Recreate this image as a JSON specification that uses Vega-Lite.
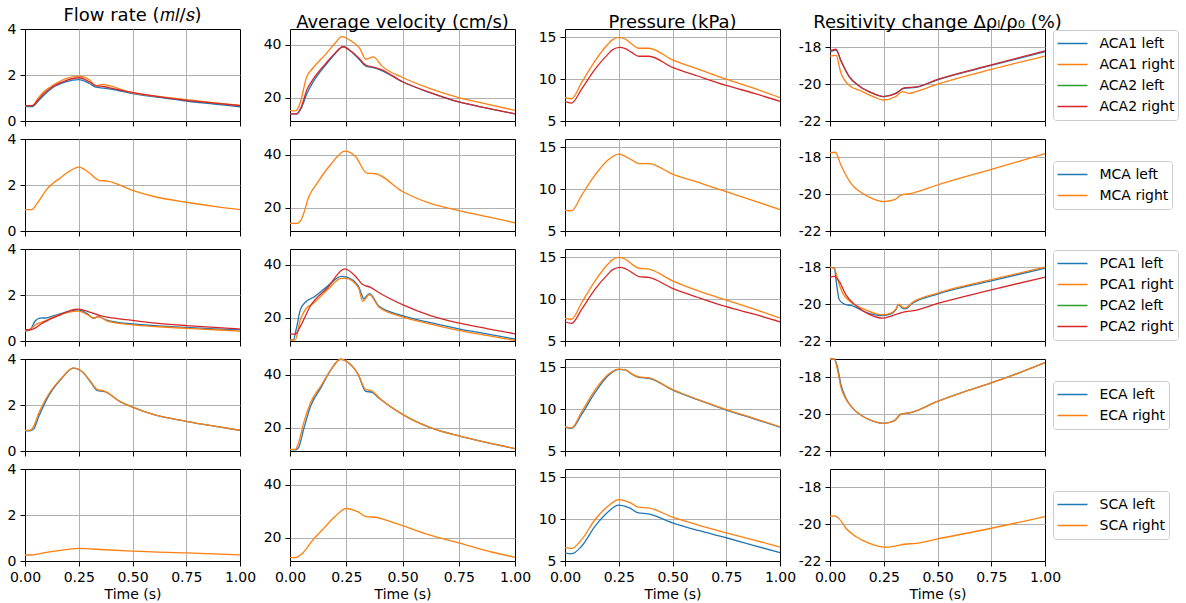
{
"$schema": "https://vega.github.io/schema/vega-lite/v6.json",
"padding": {"left": 6, "top": 6, "right": 0, "bottom": 0},
"datasets": {
"ACA_Q": [
{"s":"ACA1 left","t":0,"v":0.63},{"s":"ACA1 left","t":0.035,"v":0.63},{"s":"ACA1 left","t":0.06,"v":0.85},{"s":"ACA1 left","t":0.085,"v":1.1},{"s":"ACA1 left","t":0.13,"v":1.46},{"s":"ACA1 left","t":0.19,"v":1.7},{"s":"ACA1 left","t":0.25,"v":1.8},{"s":"ACA1 left","t":0.3,"v":1.63},{"s":"ACA1 left","t":0.33,"v":1.47},{"s":"ACA1 left","t":0.365,"v":1.43},{"s":"ACA1 left","t":0.41,"v":1.37},{"s":"ACA1 left","t":0.5,"v":1.19},{"s":"ACA1 left","t":0.62,"v":1.03},{"s":"ACA1 left","t":0.75,"v":0.87},{"s":"ACA1 left","t":0.88,"v":0.74},{"s":"ACA1 left","t":1,"v":0.62},
{"s":"ACA1 right","t":0,"v":0.67},{"s":"ACA1 right","t":0.035,"v":0.68},{"s":"ACA1 right","t":0.06,"v":0.98},{"s":"ACA1 right","t":0.085,"v":1.25},{"s":"ACA1 right","t":0.13,"v":1.55},{"s":"ACA1 right","t":0.19,"v":1.84},{"s":"ACA1 right","t":0.25,"v":1.95},{"s":"ACA1 right","t":0.3,"v":1.79},{"s":"ACA1 right","t":0.33,"v":1.53},{"s":"ACA1 right","t":0.36,"v":1.59},{"s":"ACA1 right","t":0.39,"v":1.54},{"s":"ACA1 right","t":0.5,"v":1.22},{"s":"ACA1 right","t":0.62,"v":1.07},{"s":"ACA1 right","t":0.75,"v":0.93},{"s":"ACA1 right","t":0.88,"v":0.79},{"s":"ACA1 right","t":1,"v":0.68},
{"s":"ACA2 right","t":0,"v":0.67},{"s":"ACA2 right","t":0.035,"v":0.67},{"s":"ACA2 right","t":0.06,"v":0.9},{"s":"ACA2 right","t":0.085,"v":1.17},{"s":"ACA2 right","t":0.13,"v":1.5},{"s":"ACA2 right","t":0.19,"v":1.76},{"s":"ACA2 right","t":0.25,"v":1.88},{"s":"ACA2 right","t":0.3,"v":1.7},{"s":"ACA2 right","t":0.33,"v":1.53},{"s":"ACA2 right","t":0.365,"v":1.5},{"s":"ACA2 right","t":0.41,"v":1.41},{"s":"ACA2 right","t":0.5,"v":1.24},{"s":"ACA2 right","t":0.62,"v":1.06},{"s":"ACA2 right","t":0.75,"v":0.9},{"s":"ACA2 right","t":0.88,"v":0.78},{"s":"ACA2 right","t":1,"v":0.67}
],
"ACA_U": [
{"s":"ACA1 left","t":0,"v":13.9},{"s":"ACA1 left","t":0.03,"v":13.9},{"s":"ACA1 left","t":0.05,"v":16},{"s":"ACA1 left","t":0.075,"v":21.5},{"s":"ACA1 left","t":0.1,"v":25.5},{"s":"ACA1 left","t":0.16,"v":32.5},{"s":"ACA1 left","t":0.2,"v":36.5},{"s":"ACA1 left","t":0.236,"v":39.2},{"s":"ACA1 left","t":0.27,"v":37.5},{"s":"ACA1 left","t":0.31,"v":34.2},{"s":"ACA1 left","t":0.335,"v":32},{"s":"ACA1 left","t":0.37,"v":31.3},{"s":"ACA1 left","t":0.4,"v":30.5},{"s":"ACA1 left","t":0.5,"v":26},{"s":"ACA1 left","t":0.62,"v":22},{"s":"ACA1 left","t":0.75,"v":18.4},{"s":"ACA1 left","t":0.88,"v":16},{"s":"ACA1 left","t":1,"v":13.9},
{"s":"ACA1 right","t":0,"v":15.2},{"s":"ACA1 right","t":0.025,"v":15},{"s":"ACA1 right","t":0.045,"v":18},{"s":"ACA1 right","t":0.074,"v":27.8},{"s":"ACA1 right","t":0.1,"v":31},{"s":"ACA1 right","t":0.16,"v":36.5},{"s":"ACA1 right","t":0.2,"v":40.5},{"s":"ACA1 right","t":0.23,"v":43},{"s":"ACA1 right","t":0.27,"v":41.5},{"s":"ACA1 right","t":0.31,"v":38.6},{"s":"ACA1 right","t":0.337,"v":34.5},{"s":"ACA1 right","t":0.37,"v":35.4},{"s":"ACA1 right","t":0.41,"v":31.8},{"s":"ACA1 right","t":0.5,"v":27.6},{"s":"ACA1 right","t":0.62,"v":23.5},{"s":"ACA1 right","t":0.75,"v":20},{"s":"ACA1 right","t":0.88,"v":17.5},{"s":"ACA1 right","t":1,"v":15.2},
{"s":"ACA2 right","t":0,"v":13.9},{"s":"ACA2 right","t":0.03,"v":13.9},{"s":"ACA2 right","t":0.05,"v":16.5},{"s":"ACA2 right","t":0.075,"v":23},{"s":"ACA2 right","t":0.1,"v":26.6},{"s":"ACA2 right","t":0.16,"v":33},{"s":"ACA2 right","t":0.2,"v":36.8},{"s":"ACA2 right","t":0.236,"v":39.2},{"s":"ACA2 right","t":0.27,"v":37.6},{"s":"ACA2 right","t":0.31,"v":34.6},{"s":"ACA2 right","t":0.335,"v":32.4},{"s":"ACA2 right","t":0.37,"v":31.5},{"s":"ACA2 right","t":0.4,"v":30.8},{"s":"ACA2 right","t":0.5,"v":26},{"s":"ACA2 right","t":0.62,"v":22},{"s":"ACA2 right","t":0.75,"v":18.4},{"s":"ACA2 right","t":0.88,"v":16},{"s":"ACA2 right","t":1,"v":13.9}
],
"ACA_P": [
{"s":"ACA1 right","t":0,"v":7.78},{"s":"ACA1 right","t":0.03,"v":7.66},{"s":"ACA1 right","t":0.078,"v":9.64},{"s":"ACA1 right","t":0.14,"v":12.2},{"s":"ACA1 right","t":0.2,"v":14.2},{"s":"ACA1 right","t":0.22,"v":14.7},{"s":"ACA1 right","t":0.25,"v":15.0},{"s":"ACA1 right","t":0.28,"v":14.8},{"s":"ACA1 right","t":0.31,"v":14.2},{"s":"ACA1 right","t":0.344,"v":13.7},{"s":"ACA1 right","t":0.39,"v":13.7},{"s":"ACA1 right","t":0.5,"v":12.3},{"s":"ACA1 right","t":0.62,"v":11.2},{"s":"ACA1 right","t":0.75,"v":10.0},{"s":"ACA1 right","t":0.88,"v":8.9},{"s":"ACA1 right","t":1,"v":7.78},
{"s":"ACA2 right","t":0,"v":7.34},{"s":"ACA2 right","t":0.03,"v":7.14},{"s":"ACA2 right","t":0.078,"v":8.85},{"s":"ACA2 right","t":0.14,"v":11.2},{"s":"ACA2 right","t":0.2,"v":13.0},{"s":"ACA2 right","t":0.22,"v":13.5},{"s":"ACA2 right","t":0.255,"v":13.8},{"s":"ACA2 right","t":0.28,"v":13.65},{"s":"ACA2 right","t":0.31,"v":13.2},{"s":"ACA2 right","t":0.344,"v":12.74},{"s":"ACA2 right","t":0.39,"v":12.74},{"s":"ACA2 right","t":0.5,"v":11.4},{"s":"ACA2 right","t":0.62,"v":10.35},{"s":"ACA2 right","t":0.75,"v":9.25},{"s":"ACA2 right","t":0.88,"v":8.3},{"s":"ACA2 right","t":1,"v":7.34}
],
"ACA_R": [
{"s":"ACA1 left","t":0,"v":-18.25},{"s":"ACA1 left","t":0.028,"v":-18.15},{"s":"ACA1 left","t":0.05,"v":-18.7},{"s":"ACA1 left","t":0.09,"v":-19.6},{"s":"ACA1 left","t":0.136,"v":-20.1},{"s":"ACA1 left","t":0.2,"v":-20.5},{"s":"ACA1 left","t":0.248,"v":-20.67},{"s":"ACA1 left","t":0.306,"v":-20.5},{"s":"ACA1 left","t":0.345,"v":-20.22},{"s":"ACA1 left","t":0.4,"v":-20.17},{"s":"ACA1 left","t":0.5,"v":-19.76},{"s":"ACA1 left","t":0.75,"v":-18.98},{"s":"ACA1 left","t":1,"v":-18.23},
{"s":"ACA1 right","t":0,"v":-18.47},{"s":"ACA1 right","t":0.028,"v":-18.43},{"s":"ACA1 right","t":0.05,"v":-19.36},{"s":"ACA1 right","t":0.09,"v":-20.07},{"s":"ACA1 right","t":0.136,"v":-20.33},{"s":"ACA1 right","t":0.2,"v":-20.67},{"s":"ACA1 right","t":0.248,"v":-20.86},{"s":"ACA1 right","t":0.306,"v":-20.67},{"s":"ACA1 right","t":0.337,"v":-20.4},{"s":"ACA1 right","t":0.368,"v":-20.5},{"s":"ACA1 right","t":0.4,"v":-20.4},{"s":"ACA1 right","t":0.5,"v":-20.0},{"s":"ACA1 right","t":0.75,"v":-19.2},{"s":"ACA1 right","t":1,"v":-18.47},
{"s":"ACA2 right","t":0,"v":-18.19},{"s":"ACA2 right","t":0.028,"v":-18.1},{"s":"ACA2 right","t":0.05,"v":-18.7},{"s":"ACA2 right","t":0.09,"v":-19.6},{"s":"ACA2 right","t":0.136,"v":-20.1},{"s":"ACA2 right","t":0.2,"v":-20.5},{"s":"ACA2 right","t":0.248,"v":-20.67},{"s":"ACA2 right","t":0.306,"v":-20.5},{"s":"ACA2 right","t":0.345,"v":-20.2},{"s":"ACA2 right","t":0.4,"v":-20.15},{"s":"ACA2 right","t":0.5,"v":-19.74},{"s":"ACA2 right","t":0.75,"v":-18.95},{"s":"ACA2 right","t":1,"v":-18.19}
],
"MCA_Q": [
{"s":"MCA right","t":0,"v":0.93},{"s":"MCA right","t":0.032,"v":0.93},{"s":"MCA right","t":0.056,"v":1.19},{"s":"MCA right","t":0.104,"v":1.84},{"s":"MCA right","t":0.17,"v":2.35},{"s":"MCA right","t":0.21,"v":2.62},{"s":"MCA right","t":0.25,"v":2.78},{"s":"MCA right","t":0.3,"v":2.52},{"s":"MCA right","t":0.345,"v":2.2},{"s":"MCA right","t":0.385,"v":2.17},{"s":"MCA right","t":0.5,"v":1.77},{"s":"MCA right","t":0.6,"v":1.5},{"s":"MCA right","t":0.75,"v":1.25},{"s":"MCA right","t":0.88,"v":1.07},{"s":"MCA right","t":1,"v":0.93}
],
"MCA_U": [
{"s":"MCA right","t":0,"v":14.05},{"s":"MCA right","t":0.03,"v":14.05},{"s":"MCA right","t":0.053,"v":16},{"s":"MCA right","t":0.084,"v":24.2},{"s":"MCA right","t":0.12,"v":29.2},{"s":"MCA right","t":0.18,"v":36.2},{"s":"MCA right","t":0.244,"v":41.3},{"s":"MCA right","t":0.29,"v":39.4},{"s":"MCA right","t":0.342,"v":33},{"s":"MCA right","t":0.38,"v":32.8},{"s":"MCA right","t":0.5,"v":26.1},{"s":"MCA right","t":0.624,"v":21.6},{"s":"MCA right","t":0.75,"v":18.9},{"s":"MCA right","t":0.88,"v":16.5},{"s":"MCA right","t":1,"v":14.3}
],
"MCA_P": [
{"s":"MCA right","t":0,"v":7.5},{"s":"MCA right","t":0.03,"v":7.4},{"s":"MCA right","t":0.078,"v":9.3},{"s":"MCA right","t":0.14,"v":11.7},{"s":"MCA right","t":0.2,"v":13.5},{"s":"MCA right","t":0.25,"v":14.2},{"s":"MCA right","t":0.31,"v":13.5},{"s":"MCA right","t":0.344,"v":13.05},{"s":"MCA right","t":0.39,"v":13.05},{"s":"MCA right","t":0.5,"v":11.8},{"s":"MCA right","t":0.62,"v":10.8},{"s":"MCA right","t":0.75,"v":9.7},{"s":"MCA right","t":0.88,"v":8.6},{"s":"MCA right","t":1,"v":7.55}
],
"MCA_R": [
{"s":"MCA right","t":0,"v":-17.75},{"s":"MCA right","t":0.025,"v":-17.72},{"s":"MCA right","t":0.05,"v":-18.4},{"s":"MCA right","t":0.1,"v":-19.45},{"s":"MCA right","t":0.15,"v":-19.95},{"s":"MCA right","t":0.2,"v":-20.25},{"s":"MCA right","t":0.25,"v":-20.4},{"s":"MCA right","t":0.3,"v":-20.3},{"s":"MCA right","t":0.33,"v":-20.05},{"s":"MCA right","t":0.38,"v":-19.95},{"s":"MCA right","t":0.5,"v":-19.5},{"s":"MCA right","t":0.75,"v":-18.65},{"s":"MCA right","t":1,"v":-17.8}
],
"PCA_Q": [
{"s":"PCA1 left","t":0,"v":0.43},{"s":"PCA1 left","t":0.023,"v":0.48},{"s":"PCA1 left","t":0.047,"v":0.87},{"s":"PCA1 left","t":0.07,"v":0.99},{"s":"PCA1 left","t":0.1,"v":1.01},{"s":"PCA1 left","t":0.155,"v":1.16},{"s":"PCA1 left","t":0.21,"v":1.3},{"s":"PCA1 left","t":0.248,"v":1.35},{"s":"PCA1 left","t":0.287,"v":1.2},{"s":"PCA1 left","t":0.318,"v":0.99},{"s":"PCA1 left","t":0.34,"v":1.06},{"s":"PCA1 left","t":0.38,"v":0.91},{"s":"PCA1 left","t":0.5,"v":0.74},{"s":"PCA1 left","t":0.62,"v":0.66},{"s":"PCA1 left","t":0.75,"v":0.59},{"s":"PCA1 left","t":0.88,"v":0.53},{"s":"PCA1 left","t":1,"v":0.48},
{"s":"PCA1 right","t":0,"v":0.43},{"s":"PCA1 right","t":0.03,"v":0.55},{"s":"PCA1 right","t":0.047,"v":0.7},{"s":"PCA1 right","t":0.085,"v":0.84},{"s":"PCA1 right","t":0.155,"v":1.13},{"s":"PCA1 right","t":0.248,"v":1.3},{"s":"PCA1 right","t":0.287,"v":1.16},{"s":"PCA1 right","t":0.322,"v":0.99},{"s":"PCA1 right","t":0.34,"v":1.06},{"s":"PCA1 right","t":0.38,"v":0.88},{"s":"PCA1 right","t":0.5,"v":0.7},{"s":"PCA1 right","t":0.62,"v":0.62},{"s":"PCA1 right","t":0.75,"v":0.55},{"s":"PCA1 right","t":0.88,"v":0.49},{"s":"PCA1 right","t":1,"v":0.43},
{"s":"PCA2 right","t":0,"v":0.49},{"s":"PCA2 right","t":0.03,"v":0.5},{"s":"PCA2 right","t":0.085,"v":0.8},{"s":"PCA2 right","t":0.155,"v":1.1},{"s":"PCA2 right","t":0.243,"v":1.39},{"s":"PCA2 right","t":0.287,"v":1.3},{"s":"PCA2 right","t":0.35,"v":1.1},{"s":"PCA2 right","t":0.5,"v":0.9},{"s":"PCA2 right","t":0.62,"v":0.77},{"s":"PCA2 right","t":0.75,"v":0.67},{"s":"PCA2 right","t":0.88,"v":0.59},{"s":"PCA2 right","t":1,"v":0.52}
],
"PCA_U": [
{"s":"PCA1 left","t":0,"v":11.6},{"s":"PCA1 left","t":0.015,"v":11.6},{"s":"PCA1 left","t":0.027,"v":15.4},{"s":"PCA1 left","t":0.046,"v":23},{"s":"PCA1 left","t":0.068,"v":25.8},{"s":"PCA1 left","t":0.107,"v":27.8},{"s":"PCA1 left","t":0.167,"v":31.9},{"s":"PCA1 left","t":0.228,"v":35.6},{"s":"PCA1 left","t":0.248,"v":35.4},{"s":"PCA1 left","t":0.304,"v":31.9},{"s":"PCA1 left","t":0.32,"v":28.4},{"s":"PCA1 left","t":0.327,"v":27.1},{"s":"PCA1 left","t":0.353,"v":29.1},{"s":"PCA1 left","t":0.396,"v":24.3},{"s":"PCA1 left","t":0.5,"v":20.8},{"s":"PCA1 left","t":0.62,"v":18.2},{"s":"PCA1 left","t":0.75,"v":15.8},{"s":"PCA1 left","t":0.88,"v":13.8},{"s":"PCA1 left","t":1,"v":11.9},
{"s":"PCA1 right","t":0,"v":11.6},{"s":"PCA1 right","t":0.023,"v":11.6},{"s":"PCA1 right","t":0.046,"v":19.2},{"s":"PCA1 right","t":0.068,"v":23},{"s":"PCA1 right","t":0.107,"v":25.6},{"s":"PCA1 right","t":0.167,"v":30.6},{"s":"PCA1 right","t":0.228,"v":34.8},{"s":"PCA1 right","t":0.248,"v":34.8},{"s":"PCA1 right","t":0.304,"v":31.3},{"s":"PCA1 right","t":0.323,"v":26.2},{"s":"PCA1 right","t":0.353,"v":28.7},{"s":"PCA1 right","t":0.396,"v":23.9},{"s":"PCA1 right","t":0.5,"v":20.3},{"s":"PCA1 right","t":0.62,"v":17.7},{"s":"PCA1 right","t":0.75,"v":15.2},{"s":"PCA1 right","t":0.88,"v":13.2},{"s":"PCA1 right","t":1,"v":11.4},
{"s":"PCA2 right","t":0,"v":13.8},{"s":"PCA2 right","t":0.023,"v":13.8},{"s":"PCA2 right","t":0.046,"v":16.7},{"s":"PCA2 right","t":0.09,"v":24.3},{"s":"PCA2 right","t":0.167,"v":31.3},{"s":"PCA2 right","t":0.243,"v":38.4},{"s":"PCA2 right","t":0.29,"v":35.7},{"s":"PCA2 right","t":0.32,"v":32.7},{"s":"PCA2 right","t":0.358,"v":31.4},{"s":"PCA2 right","t":0.396,"v":29.4},{"s":"PCA2 right","t":0.5,"v":24.9},{"s":"PCA2 right","t":0.624,"v":20.8},{"s":"PCA2 right","t":0.75,"v":18},{"s":"PCA2 right","t":0.88,"v":15.8},{"s":"PCA2 right","t":1,"v":13.9}
],
"PCA_P": [
{"s":"PCA1 right","t":0,"v":7.7},{"s":"PCA1 right","t":0.03,"v":7.6},{"s":"PCA1 right","t":0.078,"v":9.6},{"s":"PCA1 right","t":0.14,"v":12.2},{"s":"PCA1 right","t":0.2,"v":14.2},{"s":"PCA1 right","t":0.22,"v":14.7},{"s":"PCA1 right","t":0.25,"v":15.0},{"s":"PCA1 right","t":0.28,"v":14.8},{"s":"PCA1 right","t":0.31,"v":14.2},{"s":"PCA1 right","t":0.344,"v":13.7},{"s":"PCA1 right","t":0.39,"v":13.6},{"s":"PCA1 right","t":0.5,"v":12.2},{"s":"PCA1 right","t":0.62,"v":11.0},{"s":"PCA1 right","t":0.75,"v":9.9},{"s":"PCA1 right","t":0.88,"v":8.8},{"s":"PCA1 right","t":1,"v":7.75},
{"s":"PCA2 right","t":0,"v":7.3},{"s":"PCA2 right","t":0.03,"v":7.1},{"s":"PCA2 right","t":0.078,"v":8.8},{"s":"PCA2 right","t":0.14,"v":11.2},{"s":"PCA2 right","t":0.2,"v":13.0},{"s":"PCA2 right","t":0.22,"v":13.5},{"s":"PCA2 right","t":0.255,"v":13.8},{"s":"PCA2 right","t":0.28,"v":13.65},{"s":"PCA2 right","t":0.31,"v":13.2},{"s":"PCA2 right","t":0.344,"v":12.7},{"s":"PCA2 right","t":0.39,"v":12.6},{"s":"PCA2 right","t":0.5,"v":11.3},{"s":"PCA2 right","t":0.62,"v":10.2},{"s":"PCA2 right","t":0.75,"v":9.1},{"s":"PCA2 right","t":0.88,"v":8.2},{"s":"PCA2 right","t":1,"v":7.3}
],
"PCA_R": [
{"s":"PCA1 left","t":0,"v":-17.98},{"s":"PCA1 left","t":0.02,"v":-18.04},{"s":"PCA1 left","t":0.031,"v":-18.95},{"s":"PCA1 left","t":0.043,"v":-19.76},{"s":"PCA1 left","t":0.067,"v":-20.0},{"s":"PCA1 left","t":0.098,"v":-20.07},{"s":"PCA1 left","t":0.167,"v":-20.44},{"s":"PCA1 left","t":0.245,"v":-20.62},{"s":"PCA1 left","t":0.283,"v":-20.53},{"s":"PCA1 left","t":0.306,"v":-20.31},{"s":"PCA1 left","t":0.319,"v":-20.04},{"s":"PCA1 left","t":0.337,"v":-20.22},{"s":"PCA1 left","t":0.35,"v":-20.25},{"s":"PCA1 left","t":0.384,"v":-19.95},{"s":"PCA1 left","t":0.5,"v":-19.45},{"s":"PCA1 left","t":0.75,"v":-18.73},{"s":"PCA1 left","t":1,"v":-18.04},
{"s":"PCA1 right","t":0,"v":-17.98},{"s":"PCA1 right","t":0.02,"v":-18.04},{"s":"PCA1 right","t":0.036,"v":-18.67},{"s":"PCA1 right","t":0.059,"v":-19.4},{"s":"PCA1 right","t":0.09,"v":-19.82},{"s":"PCA1 right","t":0.167,"v":-20.31},{"s":"PCA1 right","t":0.245,"v":-20.58},{"s":"PCA1 right","t":0.283,"v":-20.49},{"s":"PCA1 right","t":0.306,"v":-20.27},{"s":"PCA1 right","t":0.319,"v":-20.0},{"s":"PCA1 right","t":0.337,"v":-20.16},{"s":"PCA1 right","t":0.35,"v":-20.2},{"s":"PCA1 right","t":0.384,"v":-19.9},{"s":"PCA1 right","t":0.5,"v":-19.4},{"s":"PCA1 right","t":0.75,"v":-18.67},{"s":"PCA1 right","t":1,"v":-17.98},
{"s":"PCA2 right","t":0,"v":-18.53},{"s":"PCA2 right","t":0.02,"v":-18.49},{"s":"PCA2 right","t":0.043,"v":-18.76},{"s":"PCA2 right","t":0.074,"v":-19.49},{"s":"PCA2 right","t":0.12,"v":-20.07},{"s":"PCA2 right","t":0.183,"v":-20.55},{"s":"PCA2 right","t":0.245,"v":-20.76},{"s":"PCA2 right","t":0.29,"v":-20.62},{"s":"PCA2 right","t":0.353,"v":-20.4},{"s":"PCA2 right","t":0.39,"v":-20.35},{"s":"PCA2 right","t":0.5,"v":-19.96},{"s":"PCA2 right","t":0.75,"v":-19.22},{"s":"PCA2 right","t":1,"v":-18.53}
],
"ECA_Q": [
{"s":"ECA left","t":0,"v":0.88},{"s":"ECA left","t":0.024,"v":0.88},{"s":"ECA left","t":0.04,"v":0.95},{"s":"ECA left","t":0.064,"v":1.5},{"s":"ECA left","t":0.104,"v":2.3},{"s":"ECA left","t":0.17,"v":3.15},{"s":"ECA left","t":0.225,"v":3.6},{"s":"ECA left","t":0.265,"v":3.46},{"s":"ECA left","t":0.305,"v":3.0},{"s":"ECA left","t":0.337,"v":2.62},{"s":"ECA left","t":0.37,"v":2.58},{"s":"ECA left","t":0.44,"v":2.16},{"s":"ECA left","t":0.5,"v":1.91},{"s":"ECA left","t":0.6,"v":1.58},{"s":"ECA left","t":0.75,"v":1.29},{"s":"ECA left","t":0.88,"v":1.08},{"s":"ECA left","t":1,"v":0.9},
{"s":"ECA right","t":0,"v":0.9},{"s":"ECA right","t":0.024,"v":0.9},{"s":"ECA right","t":0.04,"v":1.07},{"s":"ECA right","t":0.064,"v":1.65},{"s":"ECA right","t":0.104,"v":2.38},{"s":"ECA right","t":0.17,"v":3.17},{"s":"ECA right","t":0.225,"v":3.61},{"s":"ECA right","t":0.265,"v":3.46},{"s":"ECA right","t":0.305,"v":3.03},{"s":"ECA right","t":0.337,"v":2.67},{"s":"ECA right","t":0.37,"v":2.6},{"s":"ECA right","t":0.44,"v":2.16},{"s":"ECA right","t":0.5,"v":1.91},{"s":"ECA right","t":0.6,"v":1.58},{"s":"ECA right","t":0.75,"v":1.29},{"s":"ECA right","t":0.88,"v":1.08},{"s":"ECA right","t":1,"v":0.9}
],
"ECA_U": [
{"s":"ECA left","t":0,"v":11.8},{"s":"ECA left","t":0.023,"v":11.6},{"s":"ECA left","t":0.038,"v":12.5},{"s":"ECA left","t":0.061,"v":19.5},{"s":"ECA left","t":0.091,"v":28},{"s":"ECA left","t":0.137,"v":35},{"s":"ECA left","t":0.183,"v":42},{"s":"ECA left","t":0.225,"v":45.8},{"s":"ECA left","t":0.26,"v":44.5},{"s":"ECA left","t":0.304,"v":39.9},{"s":"ECA left","t":0.335,"v":33.8},{"s":"ECA left","t":0.365,"v":33.3},{"s":"ECA left","t":0.396,"v":31.1},{"s":"ECA left","t":0.5,"v":25},{"s":"ECA left","t":0.624,"v":20},{"s":"ECA left","t":0.75,"v":16.9},{"s":"ECA left","t":0.88,"v":14.3},{"s":"ECA left","t":1,"v":12.1},
{"s":"ECA right","t":0,"v":11.8},{"s":"ECA right","t":0.023,"v":11.8},{"s":"ECA right","t":0.038,"v":14.3},{"s":"ECA right","t":0.061,"v":21.9},{"s":"ECA right","t":0.091,"v":29.4},{"s":"ECA right","t":0.137,"v":35.7},{"s":"ECA right","t":0.183,"v":42},{"s":"ECA right","t":0.225,"v":45.8},{"s":"ECA right","t":0.26,"v":44.5},{"s":"ECA right","t":0.304,"v":39.9},{"s":"ECA right","t":0.335,"v":34.5},{"s":"ECA right","t":0.365,"v":33.8},{"s":"ECA right","t":0.396,"v":31.3},{"s":"ECA right","t":0.5,"v":25},{"s":"ECA right","t":0.624,"v":20},{"s":"ECA right","t":0.75,"v":16.9},{"s":"ECA right","t":0.88,"v":14.3},{"s":"ECA right","t":1,"v":12.1}
],
"ECA_P": [
{"s":"ECA left","t":0,"v":7.85},{"s":"ECA left","t":0.03,"v":7.7},{"s":"ECA left","t":0.078,"v":9.4},{"s":"ECA left","t":0.14,"v":12.0},{"s":"ECA left","t":0.2,"v":14.0},{"s":"ECA left","t":0.25,"v":14.75},{"s":"ECA left","t":0.28,"v":14.7},{"s":"ECA left","t":0.31,"v":14.2},{"s":"ECA left","t":0.344,"v":13.8},{"s":"ECA left","t":0.39,"v":13.7},{"s":"ECA left","t":0.5,"v":12.3},{"s":"ECA left","t":0.62,"v":11.1},{"s":"ECA left","t":0.75,"v":9.9},{"s":"ECA left","t":0.88,"v":8.85},{"s":"ECA left","t":1,"v":7.85},
{"s":"ECA right","t":0,"v":7.9},{"s":"ECA right","t":0.03,"v":7.75},{"s":"ECA right","t":0.078,"v":9.7},{"s":"ECA right","t":0.14,"v":12.3},{"s":"ECA right","t":0.2,"v":14.15},{"s":"ECA right","t":0.25,"v":14.8},{"s":"ECA right","t":0.28,"v":14.7},{"s":"ECA right","t":0.31,"v":14.25},{"s":"ECA right","t":0.344,"v":13.85},{"s":"ECA right","t":0.39,"v":13.75},{"s":"ECA right","t":0.5,"v":12.35},{"s":"ECA right","t":0.62,"v":11.15},{"s":"ECA right","t":0.75,"v":9.95},{"s":"ECA right","t":0.88,"v":8.9},{"s":"ECA right","t":1,"v":7.9}
],
"ECA_R": [
{"s":"ECA left","t":0,"v":-17.0},{"s":"ECA left","t":0.02,"v":-17.0},{"s":"ECA left","t":0.035,"v":-17.45},{"s":"ECA left","t":0.05,"v":-18.35},{"s":"ECA left","t":0.075,"v":-19.15},{"s":"ECA left","t":0.1,"v":-19.6},{"s":"ECA left","t":0.15,"v":-20.1},{"s":"ECA left","t":0.2,"v":-20.38},{"s":"ECA left","t":0.25,"v":-20.5},{"s":"ECA left","t":0.3,"v":-20.35},{"s":"ECA left","t":0.33,"v":-20.0},{"s":"ECA left","t":0.38,"v":-19.9},{"s":"ECA left","t":0.5,"v":-19.3},{"s":"ECA left","t":0.62,"v":-18.8},{"s":"ECA left","t":0.75,"v":-18.3},{"s":"ECA left","t":0.88,"v":-17.75},{"s":"ECA left","t":1,"v":-17.2},
{"s":"ECA right","t":0,"v":-17.0},{"s":"ECA right","t":0.02,"v":-17.0},{"s":"ECA right","t":0.035,"v":-17.6},{"s":"ECA right","t":0.05,"v":-18.5},{"s":"ECA right","t":0.075,"v":-19.2},{"s":"ECA right","t":0.1,"v":-19.6},{"s":"ECA right","t":0.15,"v":-20.1},{"s":"ECA right","t":0.2,"v":-20.38},{"s":"ECA right","t":0.25,"v":-20.5},{"s":"ECA right","t":0.3,"v":-20.35},{"s":"ECA right","t":0.33,"v":-20.0},{"s":"ECA right","t":0.38,"v":-19.9},{"s":"ECA right","t":0.5,"v":-19.3},{"s":"ECA right","t":0.62,"v":-18.8},{"s":"ECA right","t":0.75,"v":-18.3},{"s":"ECA right","t":0.88,"v":-17.75},{"s":"ECA right","t":1,"v":-17.2}
],
"SCA_Q": [
{"s":"SCA right","t":0,"v":0.26},{"s":"SCA right","t":0.023,"v":0.26},{"s":"SCA right","t":0.07,"v":0.32},{"s":"SCA right","t":0.116,"v":0.4},{"s":"SCA right","t":0.18,"v":0.48},{"s":"SCA right","t":0.25,"v":0.55},{"s":"SCA right","t":0.35,"v":0.5},{"s":"SCA right","t":0.5,"v":0.43},{"s":"SCA right","t":0.75,"v":0.35},{"s":"SCA right","t":1,"v":0.27}
],
"SCA_U": [
{"s":"SCA right","t":0,"v":12.6},{"s":"SCA right","t":0.025,"v":12.5},{"s":"SCA right","t":0.06,"v":14.5},{"s":"SCA right","t":0.1,"v":19},{"s":"SCA right","t":0.15,"v":23.5},{"s":"SCA right","t":0.2,"v":28},{"s":"SCA right","t":0.25,"v":31},{"s":"SCA right","t":0.3,"v":29.8},{"s":"SCA right","t":0.34,"v":27.9},{"s":"SCA right","t":0.38,"v":27.7},{"s":"SCA right","t":0.42,"v":26.8},{"s":"SCA right","t":0.5,"v":24.5},{"s":"SCA right","t":0.6,"v":21.5},{"s":"SCA right","t":0.75,"v":18},{"s":"SCA right","t":0.9,"v":14.5},{"s":"SCA right","t":1,"v":12.6}
],
"SCA_P": [
{"s":"SCA left","t":0,"v":5.95},{"s":"SCA left","t":0.031,"v":5.87},{"s":"SCA left","t":0.078,"v":6.79},{"s":"SCA left","t":0.14,"v":9.17},{"s":"SCA left","t":0.2,"v":10.87},{"s":"SCA left","t":0.25,"v":11.67},{"s":"SCA left","t":0.3,"v":11.35},{"s":"SCA left","t":0.341,"v":10.75},{"s":"SCA left","t":0.388,"v":10.63},{"s":"SCA left","t":0.5,"v":9.56},{"s":"SCA left","t":0.62,"v":8.65},{"s":"SCA left","t":0.75,"v":7.78},{"s":"SCA left","t":0.88,"v":6.85},{"s":"SCA left","t":1,"v":5.99},
{"s":"SCA right","t":0,"v":6.59},{"s":"SCA right","t":0.031,"v":6.5},{"s":"SCA right","t":0.078,"v":7.58},{"s":"SCA right","t":0.14,"v":9.96},{"s":"SCA right","t":0.2,"v":11.55},{"s":"SCA right","t":0.25,"v":12.34},{"s":"SCA right","t":0.3,"v":12.02},{"s":"SCA right","t":0.341,"v":11.43},{"s":"SCA right","t":0.388,"v":11.35},{"s":"SCA right","t":0.5,"v":10.24},{"s":"SCA right","t":0.62,"v":9.3},{"s":"SCA right","t":0.75,"v":8.37},{"s":"SCA right","t":0.88,"v":7.5},{"s":"SCA right","t":1,"v":6.67}
],
"SCA_R": [
{"s":"SCA right","t":0,"v":-19.58},{"s":"SCA right","t":0.02,"v":-19.55},{"s":"SCA right","t":0.043,"v":-19.71},{"s":"SCA right","t":0.074,"v":-20.22},{"s":"SCA right","t":0.12,"v":-20.67},{"s":"SCA right","t":0.183,"v":-21.04},{"s":"SCA right","t":0.252,"v":-21.25},{"s":"SCA right","t":0.306,"v":-21.18},{"s":"SCA right","t":0.345,"v":-21.09},{"s":"SCA right","t":0.4,"v":-21.04},{"s":"SCA right","t":0.5,"v":-20.8},{"s":"SCA right","t":0.75,"v":-20.22},{"s":"SCA right","t":1,"v":-19.58}
]
},
"columns": 4,
"spacing": {"row": 18, "column": 50},
"bounds": "flush",
"resolve": {"scale": {"color": "independent", "x": "independent", "y": "independent"}},
"concat": [
{"title": "Flow rate (𝑚𝑙/𝑠)", "width": 215, "height": 92, "data": {"name": "ACA_Q"}, "mark": {"type": "line", "interpolate": "monotone", "strokeWidth": 1.3},
 "encoding": {"x": {"field": "t", "type": "quantitative", "scale": {"domain": [0, 1], "nice": false}, "axis": {"values": [0, 0.25, 0.5, 0.75, 1], "labels": false, "title": null, "gridOpacity": {"condition": {"test": "datum.value <= 0 || datum.value >= 1", "value": 0}, "value": 1}}},
  "y": {"field": "v", "type": "quantitative", "scale": {"domain": [0, 4], "nice": false, "zero": false}, "axis": {"values": [0, 2, 4], "title": null, "gridOpacity": {"condition": {"test": "datum.value <= 0 || datum.value >= 4", "value": 0}, "value": 1}}},
  "color": {"field": "s", "type": "nominal", "scale": {"domain": ["ACA1 left", "ACA1 right", "ACA2 left", "ACA2 right"], "range": ["#1f77b4", "#ff7f0e", "#2ca02c", "#d62728"]}, "legend": null}}},
{"title": "Average velocity (cm/s)", "width": 225, "height": 92, "data": {"name": "ACA_U"}, "mark": {"type": "line", "interpolate": "monotone", "strokeWidth": 1.3},
 "encoding": {"x": {"field": "t", "type": "quantitative", "scale": {"domain": [0, 1], "nice": false}, "axis": {"values": [0, 0.25, 0.5, 0.75, 1], "labels": false, "title": null, "gridOpacity": {"condition": {"test": "datum.value <= 0 || datum.value >= 1", "value": 0}, "value": 1}}},
  "y": {"field": "v", "type": "quantitative", "scale": {"domain": [11.2, 45.9], "nice": false, "zero": false}, "axis": {"values": [20, 40], "title": null}},
  "color": {"field": "s", "type": "nominal", "scale": {"domain": ["ACA1 left", "ACA1 right", "ACA2 left", "ACA2 right"], "range": ["#1f77b4", "#ff7f0e", "#2ca02c", "#d62728"]}, "legend": null}}},
{"title": "Pressure (kPa)", "width": 215, "height": 92, "data": {"name": "ACA_P"}, "mark": {"type": "line", "interpolate": "monotone", "strokeWidth": 1.3},
 "encoding": {"x": {"field": "t", "type": "quantitative", "scale": {"domain": [0, 1], "nice": false}, "axis": {"values": [0, 0.25, 0.5, 0.75, 1], "labels": false, "title": null, "gridOpacity": {"condition": {"test": "datum.value <= 0 || datum.value >= 1", "value": 0}, "value": 1}}},
  "y": {"field": "v", "type": "quantitative", "scale": {"domain": [5, 16], "nice": false, "zero": false}, "axis": {"values": [5, 10, 15], "title": null, "gridOpacity": {"condition": {"test": "datum.value <= 5", "value": 0}, "value": 1}}},
  "color": {"field": "s", "type": "nominal", "scale": {"domain": ["ACA1 left", "ACA1 right", "ACA2 left", "ACA2 right"], "range": ["#1f77b4", "#ff7f0e", "#2ca02c", "#d62728"]}, "legend": null}}},
{"title": "Resitivity change Δρₗ/ρ₀ (%)", "width": 215, "height": 92, "data": {"name": "ACA_R"}, "mark": {"type": "line", "interpolate": "monotone", "strokeWidth": 1.3},
 "encoding": {"x": {"field": "t", "type": "quantitative", "scale": {"domain": [0, 1], "nice": false}, "axis": {"values": [0, 0.25, 0.5, 0.75, 1], "labels": false, "title": null, "gridOpacity": {"condition": {"test": "datum.value <= 0 || datum.value >= 1", "value": 0}, "value": 1}}},
  "y": {"field": "v", "type": "quantitative", "scale": {"domain": [-22, -17], "nice": false, "zero": false}, "axis": {"values": [-22, -20, -18], "title": null, "labelExpr": "replace(datum.label, '\u2212', '-')", "gridOpacity": {"condition": {"test": "datum.value <= -22", "value": 0}, "value": 1}}},
  "color": {"field": "s", "type": "nominal", "scale": {"domain": ["ACA1 left", "ACA1 right", "ACA2 left", "ACA2 right"], "range": ["#1f77b4", "#ff7f0e", "#2ca02c", "#d62728"]}, "legend": {"orient": "none", "legendX": 223, "legendY": 1}}}},

{"width": 215, "height": 92, "data": {"name": "MCA_Q"}, "mark": {"type": "line", "interpolate": "monotone", "strokeWidth": 1.3},
 "encoding": {"x": {"field": "t", "type": "quantitative", "scale": {"domain": [0, 1], "nice": false}, "axis": {"values": [0, 0.25, 0.5, 0.75, 1], "labels": false, "title": null, "gridOpacity": {"condition": {"test": "datum.value <= 0 || datum.value >= 1", "value": 0}, "value": 1}}},
  "y": {"field": "v", "type": "quantitative", "scale": {"domain": [0, 4], "nice": false, "zero": false}, "axis": {"values": [0, 2, 4], "title": null, "gridOpacity": {"condition": {"test": "datum.value <= 0 || datum.value >= 4", "value": 0}, "value": 1}}},
  "color": {"field": "s", "type": "nominal", "scale": {"domain": ["MCA left", "MCA right"], "range": ["#1f77b4", "#ff7f0e"]}, "legend": null}}},
{"width": 225, "height": 92, "data": {"name": "MCA_U"}, "mark": {"type": "line", "interpolate": "monotone", "strokeWidth": 1.3},
 "encoding": {"x": {"field": "t", "type": "quantitative", "scale": {"domain": [0, 1], "nice": false}, "axis": {"values": [0, 0.25, 0.5, 0.75, 1], "labels": false, "title": null, "gridOpacity": {"condition": {"test": "datum.value <= 0 || datum.value >= 1", "value": 0}, "value": 1}}},
  "y": {"field": "v", "type": "quantitative", "scale": {"domain": [11.2, 45.9], "nice": false, "zero": false}, "axis": {"values": [20, 40], "title": null}},
  "color": {"field": "s", "type": "nominal", "scale": {"domain": ["MCA left", "MCA right"], "range": ["#1f77b4", "#ff7f0e"]}, "legend": null}}},
{"width": 215, "height": 92, "data": {"name": "MCA_P"}, "mark": {"type": "line", "interpolate": "monotone", "strokeWidth": 1.3},
 "encoding": {"x": {"field": "t", "type": "quantitative", "scale": {"domain": [0, 1], "nice": false}, "axis": {"values": [0, 0.25, 0.5, 0.75, 1], "labels": false, "title": null, "gridOpacity": {"condition": {"test": "datum.value <= 0 || datum.value >= 1", "value": 0}, "value": 1}}},
  "y": {"field": "v", "type": "quantitative", "scale": {"domain": [5, 16], "nice": false, "zero": false}, "axis": {"values": [5, 10, 15], "title": null, "gridOpacity": {"condition": {"test": "datum.value <= 5", "value": 0}, "value": 1}}},
  "color": {"field": "s", "type": "nominal", "scale": {"domain": ["MCA left", "MCA right"], "range": ["#1f77b4", "#ff7f0e"]}, "legend": null}}},
{"width": 215, "height": 92, "data": {"name": "MCA_R"}, "mark": {"type": "line", "interpolate": "monotone", "strokeWidth": 1.3},
 "encoding": {"x": {"field": "t", "type": "quantitative", "scale": {"domain": [0, 1], "nice": false}, "axis": {"values": [0, 0.25, 0.5, 0.75, 1], "labels": false, "title": null, "gridOpacity": {"condition": {"test": "datum.value <= 0 || datum.value >= 1", "value": 0}, "value": 1}}},
  "y": {"field": "v", "type": "quantitative", "scale": {"domain": [-22, -17], "nice": false, "zero": false}, "axis": {"values": [-22, -20, -18], "title": null, "labelExpr": "replace(datum.label, '\u2212', '-')", "gridOpacity": {"condition": {"test": "datum.value <= -22", "value": 0}, "value": 1}}},
  "color": {"field": "s", "type": "nominal", "scale": {"domain": ["MCA left", "MCA right"], "range": ["#1f77b4", "#ff7f0e"]}, "legend": {"orient": "none", "legendX": 223, "legendY": 22}}}},

{"width": 215, "height": 92, "data": {"name": "PCA_Q"}, "mark": {"type": "line", "interpolate": "monotone", "strokeWidth": 1.3},
 "encoding": {"x": {"field": "t", "type": "quantitative", "scale": {"domain": [0, 1], "nice": false}, "axis": {"values": [0, 0.25, 0.5, 0.75, 1], "labels": false, "title": null, "gridOpacity": {"condition": {"test": "datum.value <= 0 || datum.value >= 1", "value": 0}, "value": 1}}},
  "y": {"field": "v", "type": "quantitative", "scale": {"domain": [0, 4], "nice": false, "zero": false}, "axis": {"values": [0, 2, 4], "title": null, "gridOpacity": {"condition": {"test": "datum.value <= 0 || datum.value >= 4", "value": 0}, "value": 1}}},
  "color": {"field": "s", "type": "nominal", "scale": {"domain": ["PCA1 left", "PCA1 right", "PCA2 left", "PCA2 right"], "range": ["#1f77b4", "#ff7f0e", "#2ca02c", "#d62728"]}, "legend": null}}},
{"width": 225, "height": 92, "data": {"name": "PCA_U"}, "mark": {"type": "line", "interpolate": "monotone", "strokeWidth": 1.3},
 "encoding": {"x": {"field": "t", "type": "quantitative", "scale": {"domain": [0, 1], "nice": false}, "axis": {"values": [0, 0.25, 0.5, 0.75, 1], "labels": false, "title": null, "gridOpacity": {"condition": {"test": "datum.value <= 0 || datum.value >= 1", "value": 0}, "value": 1}}},
  "y": {"field": "v", "type": "quantitative", "scale": {"domain": [11.2, 45.9], "nice": false, "zero": false}, "axis": {"values": [20, 40], "title": null}},
  "color": {"field": "s", "type": "nominal", "scale": {"domain": ["PCA1 left", "PCA1 right", "PCA2 left", "PCA2 right"], "range": ["#1f77b4", "#ff7f0e", "#2ca02c", "#d62728"]}, "legend": null}}},
{"width": 215, "height": 92, "data": {"name": "PCA_P"}, "mark": {"type": "line", "interpolate": "monotone", "strokeWidth": 1.3},
 "encoding": {"x": {"field": "t", "type": "quantitative", "scale": {"domain": [0, 1], "nice": false}, "axis": {"values": [0, 0.25, 0.5, 0.75, 1], "labels": false, "title": null, "gridOpacity": {"condition": {"test": "datum.value <= 0 || datum.value >= 1", "value": 0}, "value": 1}}},
  "y": {"field": "v", "type": "quantitative", "scale": {"domain": [5, 16], "nice": false, "zero": false}, "axis": {"values": [5, 10, 15], "title": null, "gridOpacity": {"condition": {"test": "datum.value <= 5", "value": 0}, "value": 1}}},
  "color": {"field": "s", "type": "nominal", "scale": {"domain": ["PCA1 left", "PCA1 right", "PCA2 left", "PCA2 right"], "range": ["#1f77b4", "#ff7f0e", "#2ca02c", "#d62728"]}, "legend": null}}},
{"width": 215, "height": 92, "data": {"name": "PCA_R"}, "mark": {"type": "line", "interpolate": "monotone", "strokeWidth": 1.3},
 "encoding": {"x": {"field": "t", "type": "quantitative", "scale": {"domain": [0, 1], "nice": false}, "axis": {"values": [0, 0.25, 0.5, 0.75, 1], "labels": false, "title": null, "gridOpacity": {"condition": {"test": "datum.value <= 0 || datum.value >= 1", "value": 0}, "value": 1}}},
  "y": {"field": "v", "type": "quantitative", "scale": {"domain": [-22, -17], "nice": false, "zero": false}, "axis": {"values": [-22, -20, -18], "title": null, "labelExpr": "replace(datum.label, '\u2212', '-')", "gridOpacity": {"condition": {"test": "datum.value <= -22", "value": 0}, "value": 1}}},
  "color": {"field": "s", "type": "nominal", "scale": {"domain": ["PCA1 left", "PCA1 right", "PCA2 left", "PCA2 right"], "range": ["#1f77b4", "#ff7f0e", "#2ca02c", "#d62728"]}, "legend": {"orient": "none", "legendX": 223, "legendY": 1}}}},

{"width": 215, "height": 92, "data": {"name": "ECA_Q"}, "mark": {"type": "line", "interpolate": "monotone", "strokeWidth": 1.3},
 "encoding": {"x": {"field": "t", "type": "quantitative", "scale": {"domain": [0, 1], "nice": false}, "axis": {"values": [0, 0.25, 0.5, 0.75, 1], "labels": false, "title": null, "gridOpacity": {"condition": {"test": "datum.value <= 0 || datum.value >= 1", "value": 0}, "value": 1}}},
  "y": {"field": "v", "type": "quantitative", "scale": {"domain": [0, 4], "nice": false, "zero": false}, "axis": {"values": [0, 2, 4], "title": null, "gridOpacity": {"condition": {"test": "datum.value <= 0 || datum.value >= 4", "value": 0}, "value": 1}}},
  "color": {"field": "s", "type": "nominal", "scale": {"domain": ["ECA left", "ECA right"], "range": ["#1f77b4", "#ff7f0e"]}, "legend": null}}},
{"width": 225, "height": 92, "data": {"name": "ECA_U"}, "mark": {"type": "line", "interpolate": "monotone", "strokeWidth": 1.3},
 "encoding": {"x": {"field": "t", "type": "quantitative", "scale": {"domain": [0, 1], "nice": false}, "axis": {"values": [0, 0.25, 0.5, 0.75, 1], "labels": false, "title": null, "gridOpacity": {"condition": {"test": "datum.value <= 0 || datum.value >= 1", "value": 0}, "value": 1}}},
  "y": {"field": "v", "type": "quantitative", "scale": {"domain": [11.2, 45.9], "nice": false, "zero": false}, "axis": {"values": [20, 40], "title": null}},
  "color": {"field": "s", "type": "nominal", "scale": {"domain": ["ECA left", "ECA right"], "range": ["#1f77b4", "#ff7f0e"]}, "legend": null}}},
{"width": 215, "height": 92, "data": {"name": "ECA_P"}, "mark": {"type": "line", "interpolate": "monotone", "strokeWidth": 1.3},
 "encoding": {"x": {"field": "t", "type": "quantitative", "scale": {"domain": [0, 1], "nice": false}, "axis": {"values": [0, 0.25, 0.5, 0.75, 1], "labels": false, "title": null, "gridOpacity": {"condition": {"test": "datum.value <= 0 || datum.value >= 1", "value": 0}, "value": 1}}},
  "y": {"field": "v", "type": "quantitative", "scale": {"domain": [5, 16], "nice": false, "zero": false}, "axis": {"values": [5, 10, 15], "title": null, "gridOpacity": {"condition": {"test": "datum.value <= 5", "value": 0}, "value": 1}}},
  "color": {"field": "s", "type": "nominal", "scale": {"domain": ["ECA left", "ECA right"], "range": ["#1f77b4", "#ff7f0e"]}, "legend": null}}},
{"width": 215, "height": 92, "data": {"name": "ECA_R"}, "mark": {"type": "line", "interpolate": "monotone", "strokeWidth": 1.3},
 "encoding": {"x": {"field": "t", "type": "quantitative", "scale": {"domain": [0, 1], "nice": false}, "axis": {"values": [0, 0.25, 0.5, 0.75, 1], "labels": false, "title": null, "gridOpacity": {"condition": {"test": "datum.value <= 0 || datum.value >= 1", "value": 0}, "value": 1}}},
  "y": {"field": "v", "type": "quantitative", "scale": {"domain": [-22, -17], "nice": false, "zero": false}, "axis": {"values": [-22, -20, -18], "title": null, "labelExpr": "replace(datum.label, '\u2212', '-')", "gridOpacity": {"condition": {"test": "datum.value <= -22", "value": 0}, "value": 1}}},
  "color": {"field": "s", "type": "nominal", "scale": {"domain": ["ECA left", "ECA right"], "range": ["#1f77b4", "#ff7f0e"]}, "legend": {"orient": "none", "legendX": 223, "legendY": 22}}}},

{"width": 215, "height": 92, "data": {"name": "SCA_Q"}, "mark": {"type": "line", "interpolate": "monotone", "strokeWidth": 1.3},
 "encoding": {"x": {"field": "t", "type": "quantitative", "scale": {"domain": [0, 1], "nice": false}, "axis": {"values": [0, 0.25, 0.5, 0.75, 1], "format": ".2f", "title": "Time (s)", "gridOpacity": {"condition": {"test": "datum.value <= 0 || datum.value >= 1", "value": 0}, "value": 1}}},
  "y": {"field": "v", "type": "quantitative", "scale": {"domain": [0, 4], "nice": false, "zero": false}, "axis": {"values": [0, 2, 4], "title": null, "gridOpacity": {"condition": {"test": "datum.value <= 0 || datum.value >= 4", "value": 0}, "value": 1}}},
  "color": {"field": "s", "type": "nominal", "scale": {"domain": ["SCA left", "SCA right"], "range": ["#1f77b4", "#ff7f0e"]}, "legend": null}}},
{"width": 225, "height": 92, "data": {"name": "SCA_U"}, "mark": {"type": "line", "interpolate": "monotone", "strokeWidth": 1.3},
 "encoding": {"x": {"field": "t", "type": "quantitative", "scale": {"domain": [0, 1], "nice": false}, "axis": {"values": [0, 0.25, 0.5, 0.75, 1], "format": ".2f", "title": "Time (s)", "gridOpacity": {"condition": {"test": "datum.value <= 0 || datum.value >= 1", "value": 0}, "value": 1}}},
  "y": {"field": "v", "type": "quantitative", "scale": {"domain": [11.2, 45.9], "nice": false, "zero": false}, "axis": {"values": [20, 40], "title": null}},
  "color": {"field": "s", "type": "nominal", "scale": {"domain": ["SCA left", "SCA right"], "range": ["#1f77b4", "#ff7f0e"]}, "legend": null}}},
{"width": 215, "height": 92, "data": {"name": "SCA_P"}, "mark": {"type": "line", "interpolate": "monotone", "strokeWidth": 1.3},
 "encoding": {"x": {"field": "t", "type": "quantitative", "scale": {"domain": [0, 1], "nice": false}, "axis": {"values": [0, 0.25, 0.5, 0.75, 1], "format": ".2f", "title": "Time (s)", "gridOpacity": {"condition": {"test": "datum.value <= 0 || datum.value >= 1", "value": 0}, "value": 1}}},
  "y": {"field": "v", "type": "quantitative", "scale": {"domain": [5, 16], "nice": false, "zero": false}, "axis": {"values": [5, 10, 15], "title": null, "gridOpacity": {"condition": {"test": "datum.value <= 5", "value": 0}, "value": 1}}},
  "color": {"field": "s", "type": "nominal", "scale": {"domain": ["SCA left", "SCA right"], "range": ["#1f77b4", "#ff7f0e"]}, "legend": null}}},
{"width": 215, "height": 92, "data": {"name": "SCA_R"}, "mark": {"type": "line", "interpolate": "monotone", "strokeWidth": 1.3},
 "encoding": {"x": {"field": "t", "type": "quantitative", "scale": {"domain": [0, 1], "nice": false}, "axis": {"values": [0, 0.25, 0.5, 0.75, 1], "format": ".2f", "title": "Time (s)", "gridOpacity": {"condition": {"test": "datum.value <= 0 || datum.value >= 1", "value": 0}, "value": 1}}},
  "y": {"field": "v", "type": "quantitative", "scale": {"domain": [-22, -17], "nice": false, "zero": false}, "axis": {"values": [-22, -20, -18], "title": null, "labelExpr": "replace(datum.label, '\u2212', '-')", "gridOpacity": {"condition": {"test": "datum.value <= -22", "value": 0}, "value": 1}}},
  "color": {"field": "s", "type": "nominal", "scale": {"domain": ["SCA left", "SCA right"], "range": ["#1f77b4", "#ff7f0e"]}, "legend": {"orient": "none", "legendX": 223, "legendY": 22}}}}
],
"config": {
 "font": "DejaVu Sans",
 "background": "white",
 "view": {"stroke": "black", "strokeWidth": 1},
 "axis": {"domain": false, "tickColor": "black", "tickSize": 5, "tickWidth": 1, "labelFontSize": 14, "labelColor": "black", "labelFont": "DejaVu Sans", "labelPadding": 4, "labelFlush": false, "labelOverlap": false, "gridColor": "#b0b0b0", "gridWidth": 1, "titleFontSize": 14, "titleFontWeight": "normal", "titleColor": "black", "titleFont": "DejaVu Sans", "titlePadding": 3},
 "title": {"fontSize": 18, "fontWeight": "normal", "color": "black", "font": "DejaVu Sans", "offset": -3},
 "legend": {"title": null, "labelFontSize": 14, "labelFont": "DejaVu Sans", "labelColor": "black", "symbolType": "stroke", "symbolSize": 900, "symbolStrokeWidth": 1.5, "labelOffset": 11, "padding": 3.5, "rowPadding": 1, "clipHeight": 20, "strokeColor": "#cccccc", "fillColor": "white", "cornerRadius": 3}
}
}
